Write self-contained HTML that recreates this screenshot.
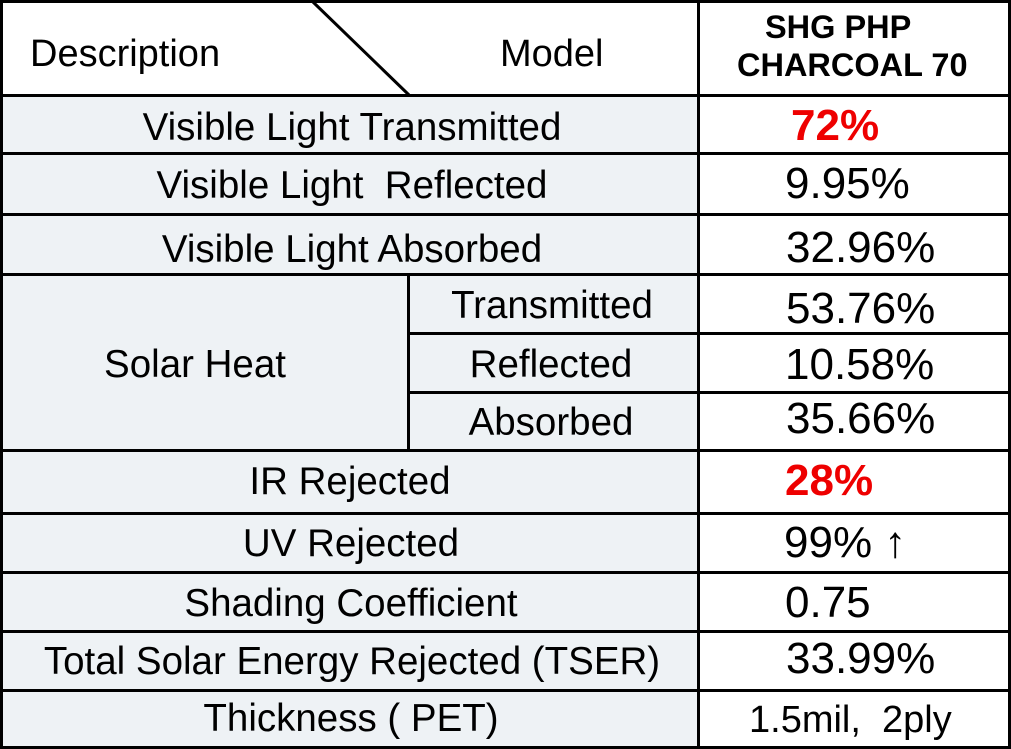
<!DOCTYPE html>
<html>
<head>
<meta charset="utf-8">
<style>
  html, body { margin:0; padding:0; background:#ffffff; }
  body { width:1011px; height:749px; overflow:hidden; }
  svg { display:block; }
  text { font-family: "Liberation Sans", Arial, sans-serif; fill:#000; }
  .l { font-size:38.5px; text-anchor:middle; }
  .v { font-size:44px; }
  .h { font-size:32.5px; font-weight:bold; }
  .red { fill:#ee0000; font-weight:bold; }
</style>
</head>
<body>
<svg width="1011" height="749" viewBox="0 0 1011 749" xmlns="http://www.w3.org/2000/svg">
  <!-- backgrounds -->
  <rect x="0" y="0" width="1011" height="749" fill="#ffffff"/>
  <rect x="0" y="95" width="698" height="654" fill="#eef2f5"/>

  <!-- horizontal lines full width -->
  <g fill="#000">
    <rect x="0" y="0" width="1011" height="3"/>
    <rect x="0" y="94" width="1011" height="3"/>
    <rect x="0" y="152" width="1011" height="3"/>
    <rect x="0" y="213" width="1011" height="3"/>
    <rect x="0" y="273" width="1011" height="3"/>
    <rect x="0" y="449" width="1011" height="3"/>
    <rect x="0" y="512" width="1011" height="3"/>
    <rect x="0" y="571" width="1011" height="3"/>
    <rect x="0" y="630" width="1011" height="3"/>
    <rect x="0" y="689" width="1011" height="3"/>
    <rect x="0" y="746" width="1011" height="3"/>
    <!-- partial lines in solar heat block -->
    <rect x="407" y="332" width="604" height="3"/>
    <rect x="407" y="391" width="604" height="3"/>
    <!-- vertical lines -->
    <rect x="0" y="0" width="3" height="749"/>
    <rect x="697" y="0" width="3" height="749"/>
    <rect x="1008" y="0" width="3" height="749"/>
    <rect x="407" y="273" width="3" height="179"/>
  </g>
  <!-- diagonal in header -->
  <line x1="313" y1="2" x2="409" y2="95" stroke="#000" stroke-width="3"/>

  <!-- header -->
  <text x="30" y="66" style="font-size:38px">Description</text>
  <text x="500" y="66" style="font-size:38px">Model</text>
  <text class="h" x="765" y="38">SHG PHP</text>
  <text class="h" x="737" y="76">CHARCOAL 70</text>

  <!-- left column labels -->
  <text class="l" x="352" y="140">Visible Light Transmitted</text>
  <text class="l" x="352" y="198" xml:space="preserve">Visible Light&#160; Reflected</text>
  <text class="l" x="352" y="262">Visible Light Absorbed</text>
  <text class="l" x="195" y="377">Solar Heat</text>
  <text class="l" x="552" y="318">Transmitted</text>
  <text class="l" x="551" y="377">Reflected</text>
  <text class="l" x="551" y="435">Absorbed</text>
  <text class="l" x="350" y="494">IR Rejected</text>
  <text class="l" x="351" y="556">UV Rejected</text>
  <text class="l" x="351" y="616">Shading Coefficient</text>
  <text class="l" x="352" y="674">Total Solar Energy Rejected (TSER)</text>
  <text class="l" x="351" y="731">Thickness ( PET)</text>

  <!-- values -->
  <text class="v red" x="791" y="140">72%</text>
  <text class="v" x="785" y="198">9.95%</text>
  <text class="v" x="786" y="262">32.96%</text>
  <text class="v" x="786" y="323">53.76%</text>
  <text class="v" x="785" y="379">10.58%</text>
  <text class="v" x="786" y="433">35.66%</text>
  <text class="v red" x="785" y="495">28%</text>
  <text class="v" x="784" y="557">99% ↑</text>
  <text class="v" x="785" y="617">0.75</text>
  <text class="v" x="786" y="673">33.99%</text>
  <text x="749" y="732" style="font-size:38px" xml:space="preserve">1.5mil,  2ply</text>
</svg>
</body>
</html>
